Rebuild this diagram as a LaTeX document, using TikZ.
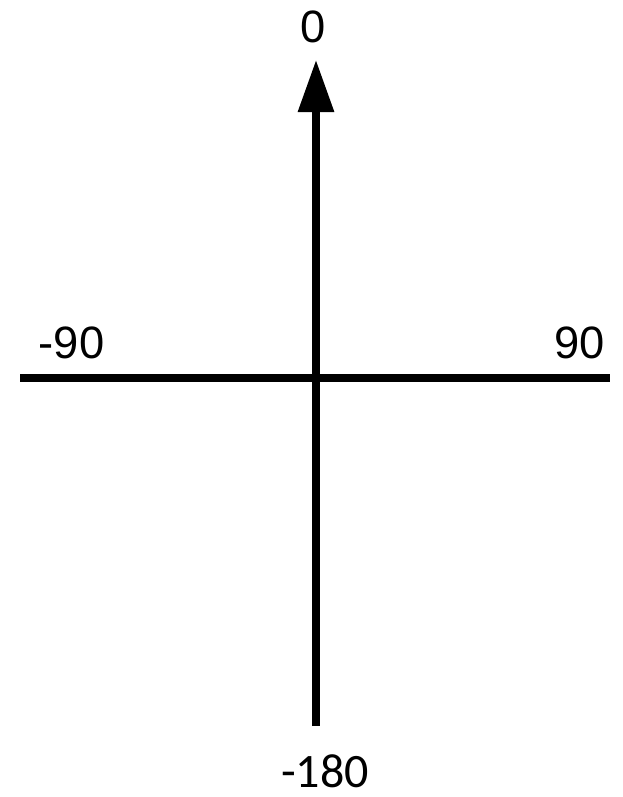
\documentclass[tikz,border=0pt]{standalone}
\usepackage{fontspec}
\setmainfont{Liberation Sans}
\newfontfamily\lowfont{Carlito}
\usetikzlibrary{arrows.meta}

\begin{document}
\begin{tikzpicture}[x=0.75pt, y=-0.75pt, font=\fontsize{34}{40}\selectfont]
\tikzset{
  axis/.style={line width=5.4pt, black},
  arr/.style={-{Triangle[length=39pt, width=26pt]}},
  lbl/.style={anchor=base, inner sep=0pt}
}
  \useasboundingbox (0,0) rectangle (622,797);
  \coordinate (top) at (316,60);
  \coordinate (bot) at (316,726);
  \coordinate (lft) at (20,378);
  \coordinate (rgt) at (610,378);
  \draw[axis] (lft) -- (rgt);
  \draw[axis, arr] (bot) -- (top);
  \node[lbl] (zero) at (313,42) {0};
  \node[lbl] (mninety) at (71.5,358) {-90};
  \node[lbl] (ninety) at (580,358) {90};
  \node[lbl, font=\lowfont\fontsize{36}{42}\selectfont] (mhundred) at (325,787) {-180};
\end{tikzpicture}
\end{document}
